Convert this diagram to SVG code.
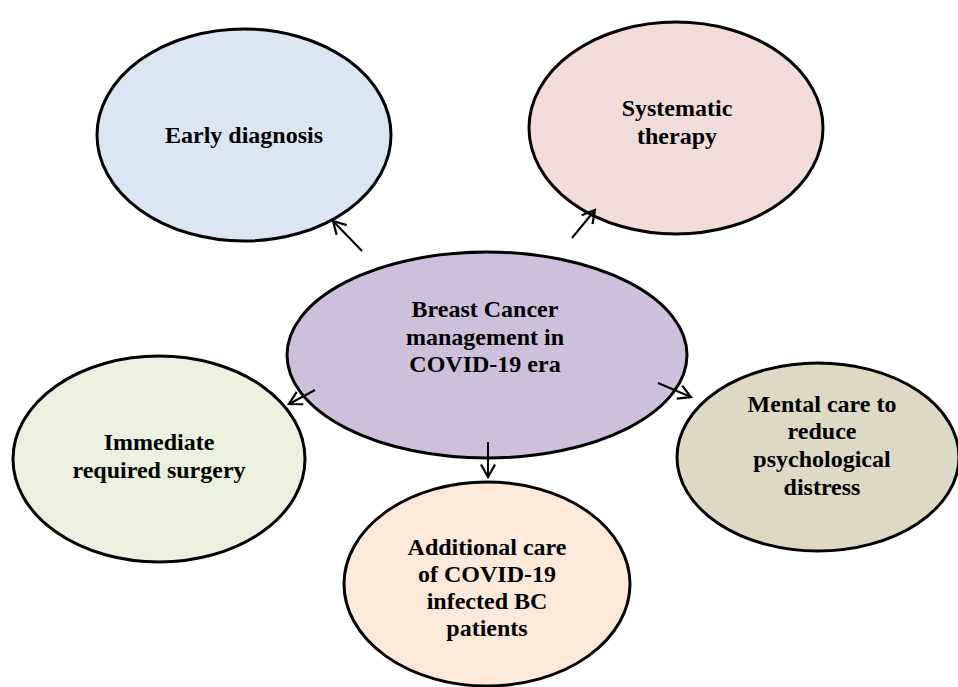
<svg xmlns="http://www.w3.org/2000/svg" width="958" height="687" viewBox="0 0 958 687">
<style>
.n{stroke:#000;stroke-width:3}
.t{font-family:"Liberation Serif","Times New Roman",serif;font-weight:bold;font-size:24px;fill:#000;text-anchor:middle}
.c{stroke:#000;stroke-width:2;fill:none;marker-end:url(#ah)}
</style>
<defs>
<marker id="ah" viewBox="0 0 16 16" refX="14" refY="8" markerWidth="16" markerHeight="16" markerUnits="userSpaceOnUse" orient="auto">
<path d="M1.5,1 L14,8 L1.5,15" fill="none" stroke="#000" stroke-width="2.2"/>
</marker>
</defs>
<rect width="958" height="687" fill="#fff"/>
<g id="early">
<ellipse class="n" cx="244" cy="135" rx="147" ry="106" fill="#DCE6F2"/>
<text class="t" x="244" y="143">Early diagnosis</text>
</g>
<g id="systematic">
<ellipse class="n" cx="676" cy="128" rx="147" ry="106" fill="#F2DCDB"/>
<text class="t" x="677" y="116">Systematic</text>
<text class="t" x="677" y="144">therapy</text>
</g>
<g id="center">
<ellipse class="n" cx="487" cy="355" rx="200" ry="103" fill="#CCC0DA"/>
<text class="t" x="485" y="317">Breast Cancer</text>
<text class="t" x="485" y="345">management in</text>
<text class="t" x="485" y="372">COVID-19 era</text>
</g>
<g id="surgery">
<ellipse class="n" cx="159" cy="459" rx="146" ry="103" fill="#EBF1DE"/>
<text class="t" x="159" y="450">Immediate</text>
<text class="t" x="159" y="478">required surgery</text>
</g>
<g id="mental">
<ellipse class="n" cx="818" cy="457" rx="141" ry="94" fill="#DDD9C4"/>
<text class="t" x="822" y="412">Mental care to</text>
<text class="t" x="822" y="439">reduce</text>
<text class="t" x="822" y="467">psychological</text>
<text class="t" x="822" y="495">distress</text>
</g>
<g id="additional">
<ellipse class="n" cx="487" cy="584" rx="143" ry="102" fill="#FDE9D9"/>
<text class="t" x="487" y="555">Additional care</text>
<text class="t" x="487" y="582">of COVID-19</text>
<text class="t" x="487" y="609">infected BC</text>
<text class="t" x="487" y="636">patients</text>
</g>
<g id="connectors">
<line class="c" x1="362" y1="251" x2="333" y2="221"/>
<line class="c" x1="572" y1="238" x2="595" y2="210"/>
<line class="c" x1="315" y1="390" x2="289" y2="404"/>
<line class="c" x1="488" y1="442" x2="488" y2="477"/>
<line class="c" x1="658" y1="383" x2="691" y2="397"/>
</g>
</svg>
